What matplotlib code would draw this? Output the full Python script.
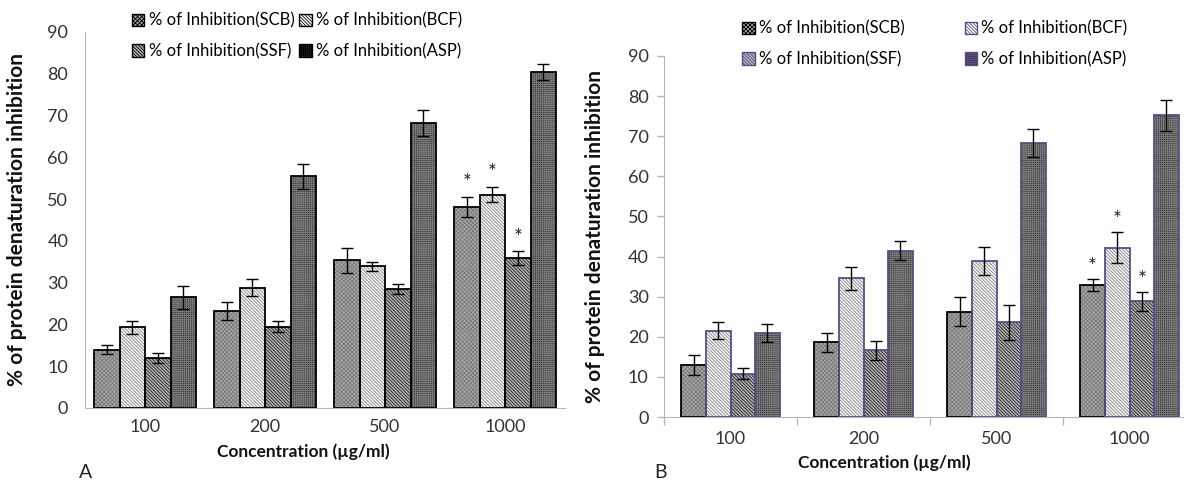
import numpy as np
import matplotlib
matplotlib.use("Agg")
import matplotlib.pyplot as plt
from matplotlib.patches import Patch

plt.rcParams['font.family'] = ['Lato', 'DejaVu Sans']
plt.rcParams['hatch.linewidth'] = 0.6

# datos
concentraciones = ['100', '200', '500', '1000']
series = ['% of Inhibition(SCB)', '% of Inhibition(BCF)',
          '% of Inhibition(SSF)', '% of Inhibition(ASP)']

# panel A
a_scb = [14.0, 23.2, 35.4, 48.1]
a_bcf = [19.3, 28.8, 33.9, 51.1]
a_ssf = [12.0, 19.5, 28.5, 35.9]
a_asp = [26.5, 55.5, 68.2, 80.4]
a_scb_err = [1.1, 2.1, 3.0, 2.4]
a_bcf_err = [1.6, 2.0, 1.1, 1.8]
a_ssf_err = [1.2, 1.4, 1.2, 1.6]
a_asp_err = [2.8, 3.0, 3.1, 1.9]

# panel B
b_scb = [13.0, 18.6, 26.2, 33.0]
b_bcf = [21.5, 34.6, 38.8, 42.2]
b_ssf = [10.8, 16.6, 23.6, 28.8]
b_asp = [20.9, 41.5, 68.3, 75.2]
b_scb_err = [2.5, 2.3, 3.6, 1.5]
b_bcf_err = [2.1, 2.9, 3.5, 3.8]
b_ssf_err = [1.4, 2.3, 4.4, 2.3]
b_asp_err = [2.3, 2.3, 3.5, 3.9]

# asteriscos (indice de concentracion, serie)
estrellas = [(3, 0), (3, 1), (3, 2)]

# estilo de relleno por serie: (color fondo, trama, color trama)
estilos = [
    ('#a8a8a8', 'xxxxxxxx', '#7a7a7a'),
    ('#ffffff', '\\' * 10, '#7a7a7a'),
    ('#b4b4b4', '\\' * 10, '#1e1e1e'),
    ('#363636', '++++++++', '#7c7c7c'),
]

PX = 1 / 100
fig = plt.figure(figsize=(1184 * PX, 484 * PX), dpi=100)


def dibujar_panel(ax, valores, errores, ancho_grupo, bordes, estrella_off):
    x = np.arange(len(concentraciones))
    n = len(valores)
    w = ancho_grupo / n
    tops = []
    for i in range(n):
        pos = x - ancho_grupo / 2 + w * (i + 0.5)
        fondo, trama, ctrama = estilos[i]
        ax.bar(pos, valores[i], w, color=fondo, edgecolor='none', zorder=2)
        ax.bar(pos, valores[i], w, color='none', edgecolor=ctrama, hatch=trama,
               linewidth=0, zorder=3)
        ax.bar(pos, valores[i], w, color='none', edgecolor=bordes[i],
               linewidth=1.3, zorder=4)
        ax.errorbar(pos, valores[i], yerr=errores[i], fmt='none', ecolor='black',
                    elinewidth=1, capsize=4, capthick=1, zorder=5)
        tops.append((pos, np.array(valores[i]) + np.array(errores[i])))
    for c, s in estrellas:
        pos, top = tops[s]
        ax.text(pos[c], top[c] + estrella_off, '*', ha='center', va='center',
                fontsize=15, color='#222222', zorder=6)
    ax.set_xlim(-0.5, len(concentraciones) - 0.5)
    ax.set_ylim(0, 90)
    ax.set_yticks(range(0, 91, 10))
    ax.set_xticks(x)
    ax.set_xticklabels(concentraciones)
    for sp in ['top', 'right']:
        ax.spines[sp].set_visible(False)
    for sp in ['left', 'bottom']:
        ax.spines[sp].set_color('#b8b8b8')
    ax.tick_params(axis='both', labelsize=13, colors='#333333')
    ax.set_ylabel('% of protein denaturation inhibition', fontsize=15,
                  fontweight='bold', color='#111111')
    ax.patch.set_alpha(0)


def leyenda(ax, bordes, colspacing, bbox):
    handles = []
    # orden por filas: SCB BCF / SSF ASP (la leyenda llena por columnas)
    for i in [0, 2, 1, 3]:
        fondo, trama, ctrama = estilos[i]
        handles.append(Patch(facecolor=fondo, edgecolor=bordes[i], hatch=trama,
                             linewidth=1, label=series[i]))
    ax.legend(handles=handles, ncol=2, frameon=False, fontsize=12,
              handlelength=0.75, handleheight=0.75, handletextpad=0.25,
              columnspacing=colspacing, labelspacing=0.85,
              loc='center', bbox_to_anchor=bbox, bbox_transform=fig.transFigure)


# --- panel A ---
axA = fig.add_axes([85 / 1184, 76 / 484, 480 / 1184, 376 / 484])
bordes_a = ['black'] * 4
dibujar_panel(axA, [a_scb, a_bcf, a_ssf, a_asp],
              [a_scb_err, a_bcf_err, a_ssf_err, a_asp_err], 0.85, bordes_a, 3.3)
axA.tick_params(length=0, pad=12)
axA.tick_params(axis='x', pad=8)
axA.yaxis.set_label_coords(-0.12, 0.5)
fig.text(303 / 1184, 1 - 452 / 484, 'Concentration (µg/ml)', ha='center',
         va='center', fontsize=12.5, fontweight='bold', color='#111111')
fig.text(86 / 1184, 1 - 472 / 484, 'A', ha='center', va='center', fontsize=14,
         color='#222222')
leyenda(axA, bordes_a, 0.3, (297 / 1184, 1 - 36 / 484))

# --- panel B ---
axB = fig.add_axes([664 / 1184, 67 / 484, 532 / 1184, 361 / 484])
bordes_b = ['black', '#5e4a86', '#5e4a86', '#5e4a86']
dibujar_panel(axB, [b_scb, b_bcf, b_ssf, b_asp],
              [b_scb_err, b_bcf_err, b_ssf_err, b_asp_err], 0.74, bordes_b, 3.0)
axB.tick_params(axis='y', length=5, width=1, color='#b8b8b8', pad=6)
axB.tick_params(axis='x', length=0, pad=10)
axB.set_xticks(np.arange(-0.5, len(concentraciones), 1.0), minor=True)
axB.tick_params(axis='x', which='minor', length=6, width=1, color='#b8b8b8')
axB.yaxis.set_label_coords(-0.11, 0.5)
fig.text(884 / 1184, 1 - 463 / 484, 'Concentration (µg/ml)', ha='center',
         va='center', fontsize=12.5, fontweight='bold', color='#111111')
fig.text(660 / 1184, 1 - 472 / 484, 'B', ha='center', va='center', fontsize=14,
         color='#222222')
leyenda(axB, bordes_b, 3.6, (935 / 1184, 1 - 44 / 484))

fig.savefig('out.png', dpi=100)
